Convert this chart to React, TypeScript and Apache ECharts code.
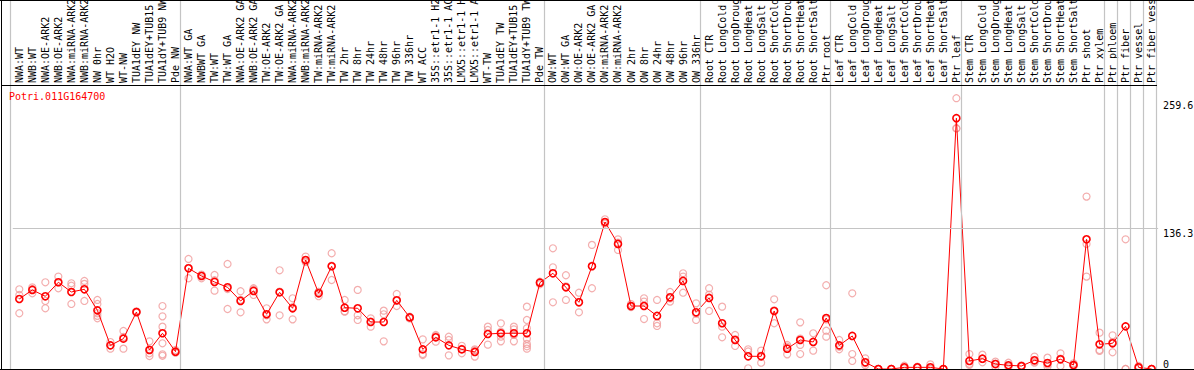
import React, { useEffect, useRef } from "react";
import * as echarts from "echarts";

const geneName = "Potri.011G164700";

const categories = [
  "NWA:WT", "NWB:WT", "NWA:OE-ARK2", "NWB:OE-ARK2", "NWA:miRNA-ARK2", "NWB:miRNA-ARK2",
  "NW 0hr", "WT H2O", "WT-NW", "TUA1dEY NW", "TUA1dEY+TUB15 NW", "TUA1dY+TUB9 NW", "Pde NW",
  "NWA:WT GA", "NWBWT GA", "TW:WT", "TW:WT GA", "NWA:OE-ARK2 GA", "NWB:OE-ARK2 GA",
  "TW:OE-ARK2", "TW:OE-ARK2 GA", "NWA:miRNA-ARK2 GA", "NWB:miRNA-ARK2 GA", "TW:miRNA-ARK2",
  "TW:miRNA-ARK2 GA", "TW 2hr", "TW 8hr", "TW 24hr", "TW 48hr", "TW 96hr", "TW 336hr",
  "WT ACC", "35S::etr1-1 H2O", "35S::etr1-1 ACC", "LMX5::etr1-1 H2O", "LMX5::etr1-1 ACC",
  "WT-TW", "TUA1dEY TW", "TUA1dEY+TUB15 TW", "TUA1dY+TUB9 TW", "Pde TW",
  "OW:WT", "OW:WT GA", "OW:OE-ARK2", "OW:OE-ARK2 GA", "OW:miRNA-ARK2", "OW:miRNA-ARK2 GA",
  "OW 2hr", "OW 8hr", "OW 24hr", "OW 48hr", "OW 96hr", "OW 336hr",
  "Root CTR", "Root LongCold", "Root LongDrought", "Root LongHeat", "Root LongSalt",
  "Root ShortCold", "Root ShortDrought", "Root ShortHeat", "Root ShortSalt", "Ptr root",
  "Leaf CTR", "Leaf LongCold", "Leaf LongDrought", "Leaf LongHeat", "Leaf LongSalt",
  "Leaf ShortCold", "Leaf ShortDrought", "Leaf ShortHeat", "Leaf ShortSalt", "Ptr leaf",
  "Stem CTR", "Stem LongCold", "Stem LongDrought", "Stem LongHeat", "Stem LongSalt",
  "Stem ShortCold", "Stem ShortDrought", "Stem ShortHeat", "Stem ShortSalt", "Ptr shoot",
  "Ptr xylem", "Ptr phloem", "Ptr fiber", "Ptr vessel", "Ptr fiber vessel",
];

const groupSizes = [13, 28, 12, 10, 10, 11, 1, 1, 1, 1];

const means = [
  67.8, 76.6, 70.4, 84, 74.6, 77.2, 56.8, 22.9, 29.4, 55.2, 18.4, 34.6, 16.8,
  97.5, 90.1, 84.3, 79.1, 65.9, 75.6, 53, 74.3, 58.8, 105.6, 73.3, 99.5, 59.4, 58.8, 45.5, 45.5,
  66.5, 50, 19, 30.7, 22.9, 19, 16.5, 33.9, 34.6, 34.6, 34.6, 83.6,
  92.7, 79.1, 64.6, 99.5, 142.4, 121.1, 61, 61, 51.4, 69.4, 85.3, 54.9,
  68.8, 44.3, 28.1, 12.3, 12.3, 56.2, 19.7, 28.1, 26.2, 49.4,
  22.9, 32, 6.5, 0, 0, 1.6, 1.6, 1.6, 0, 242.9,
  7.8, 10, 4.8, 3.6, 2.9, 8.4, 5.8, 9.4, 3.9, 125.6, 23.9,
  24.9, 41.3, 1.6, 0,
];

const replicates = [
  [77.2, 71.7, 54], [79.1, 73.3, 77.5], [84, 65.9, 58.8], [89.5, 78.2, 84],
  [83, 80.7, 63], [85.3, 82.4, 65.9], [66.9, 63, 54, 49.1, 51.5], [26.1, 19.7, 23],
  [36.8, 19.7, 31], [55.8, 54.6, 55.2], [26.8, 15.2, 12.6, 18.9],
  [61, 51, 41, 24.9, 14.2, 12.8], [18.4, 15.8, 16.2],
  [106.6, 87.9, 98], [91.5, 87.9, 91], [91.1, 75.9, 86], [101.7, 58.1, 77.5],
  [75.3, 54.9, 67], [78.2, 71.7, 77], [58.8, 48.1, 52], [95.6, 52, 75],
  [68.5, 48.1, 59.8], [108.9, 104, 104], [74.8, 70.5, 74.6], [112.1, 86.2, 100],
  [66.9, 55.5, 56], [76.6, 47.5, 52], [49.1, 41, 46], [56.5, 53, 26.8],
  [72.7, 61, 66], [50.6, 49, 50.3], [28.7, 14.5, 13.5], [33, 26.5, 32],
  [31.3, 28.1, 13.2], [22.5, 15.2, 19.5], [19, 12, 18], [41, 37.8, 23.6],
  [44.2, 31.3, 26.8, 36], [41, 38.4, 26.8, 33], [60.4, 47.5, 39.5, 29.2, 24.3, 19.7, 22],
  [84.5, 82.1, 84],
  [116.9, 98.5, 64.6], [90.8, 66.9, 80], [73.9, 54.9, 65], [120.2, 78.2, 100],
  [145, 141, 141.2], [125.6, 115.3, 122.4], [62.9, 60.4, 60], [68.5, 65.3, 48.4],
  [66.9, 44.3, 41.7], [74.6, 65.3, 68.4], [92.7, 89.5, 73.9], [63.6, 47.5, 53.6],
  [78.2, 56.2, 72], [60.4, 41, 30.7], [33, 22.3, 29], [19.1, 0.7, 17], [17.8, 6.1, 13],
  [67.5, 44.3, 56.8], [21.6, 14.2, 23.3], [45.2, 23.3, 14.5, 29.4], [34.6, 17.8, 26.2],
  [81.1, 37.1, 31.3, 48],
  [28.1, 19.1, 21.5], [73.3, 14.5, 7.8], [10.3, 5.5, 3.7], [0, 0, 0], [0, 0, 0],
  [3.2, 1, 0.6], [2.2, 1.6, 1], [4.5, 0.3, 0], [0, 0, 0], [262.3, 233.2, 233],
  [14.5, 3.9, 5], [13.9, 9.7, 6.5], [7.1, 2.2, 5.1], [6.1, 2.5, 2.2], [3.5, 2.6, 2.6],
  [12, 6.1, 7.1], [11, 2.2, 4.2], [15.2, 2.9, 10], [5.5, 3.2, 3], [167, 121.1, 89.5],
  [35.2, 18.4, 17.5], [32.6, 16.2, 26], [125.6, 0, 0], [2.9, 1, 0.9], [0, 0, 0],
];

const yTickLabels = [136.3, 259.6];
const yZeroLabel = [0];
const yGridValue = 136.3;
const yMax = 274.1;

const MONO = "DejaVu Sans Mono";

export default function App() {
  const ref = useRef<HTMLDivElement>(null);

  useEffect(() => {
    if (!ref.current) return;
    const chart = echarts.init(ref.current, null, { renderer: "svg" });

    const boundaries: number[] = [0];
    groupSizes.forEach((s) => boundaries.push(boundaries[boundaries.length - 1] + s));

    const repData: number[][] = [];
    replicates.forEach((vals, i) => vals.forEach((v) => repData.push([i, v])));

    const band = 13.015;
    const n = categories.length;

    chart.setOption({
      animation: false,
      backgroundColor: "#ffffff",
      title: {
        text: geneName,
        left: 9,
        top: 91,
        padding: 0,
        textStyle: { color: "#ff0000", fontSize: 10, fontFamily: MONO, fontWeight: "normal" },
      },
      grid: [
        { left: 12.8, top: 86, width: band * n, height: 283, containLabel: false, outerBoundsMode: "none" },
        { left: 10.7, top: 0, width: band * n, height: 369, containLabel: false, outerBoundsMode: "none" },
      ],
      xAxis: [
        {
          type: "category",
          gridIndex: 0,
          position: "top",
          data: categories,
          boundaryGap: true,
          axisLine: { show: false },
          axisTick: { show: false },
          splitLine: { show: false },
          axisLabel: {
            interval: 0,
            rotate: 90,
            margin: 3,
            color: "#000",
            fontSize: 10,
            fontFamily: MONO,
          },
        },
        { type: "value", gridIndex: 1, min: 0, max: n, show: false },
      ],
      yAxis: [
        {
          type: "value",
          gridIndex: 0,
          position: "right",
          min: 0,
          max: yMax,
          axisLine: { show: false },
          axisTick: { show: false },
          splitLine: { show: false },
          axisLabel: {
            customValues: yTickLabels,
            margin: 5,
            verticalAlign: "top",
            color: "#000",
            fontSize: 10,
            fontFamily: MONO,
          },
        },
        {
          type: "value",
          gridIndex: 0,
          position: "right",
          min: 0,
          max: yMax,
          axisLine: { show: false },
          axisTick: { show: false },
          splitLine: { show: false },
          axisLabel: {
            customValues: yZeroLabel,
            margin: 5,
            verticalAlign: "bottom",
            color: "#000",
            fontSize: 10,
            fontFamily: MONO,
          },
        },
        { type: "value", gridIndex: 1, min: 0, max: 1, show: false },
      ],
      series: [
        {
          type: "line",
          xAxisIndex: 1,
          yAxisIndex: 2,
          data: [[0, 0]],
          symbol: "none",
          lineStyle: { width: 0, opacity: 0 },
          silent: true,
          z: 1,
          markLine: {
            silent: true,
            symbol: "none",
            label: { show: false },
            lineStyle: { color: "#c4c4c4", type: "solid", width: 1.2 },
            data: boundaries.map((b) => ({ xAxis: b })),
          },
        },
        {
          type: "scatter",
          xAxisIndex: 0,
          yAxisIndex: 0,
          data: repData,
          symbol: "circle",
          symbolSize: 7,
          itemStyle: { color: "rgba(0,0,0,0)", borderColor: "#f09a9a", borderWidth: 1.2 },
          z: 2,
          silent: true,
        },
        {
          type: "line",
          xAxisIndex: 0,
          yAxisIndex: 0,
          data: means,
          symbol: "circle",
          symbolSize: 7,
          showAllSymbol: true,
          lineStyle: { color: "#ff0000", width: 1 },
          itemStyle: { color: "rgba(0,0,0,0)", borderColor: "#ff0000", borderWidth: 1.6 },
          z: 3,
          silent: true,
          markLine: {
            silent: true,
            symbol: "none",
            label: { show: false },
            lineStyle: { color: "#c4c4c4", type: "solid", width: 1.2 },
            data: [{ yAxis: yGridValue }],
          },
        },
      ],
      graphic: [
        { type: "line", shape: { x1: 0, y1: 0.5, x2: 1194, y2: 0.5 }, style: { stroke: "#000", lineWidth: 1 }, z: 10 },
        { type: "line", shape: { x1: 1, y1: 85.5, x2: 1157, y2: 85.5 }, style: { stroke: "#000", lineWidth: 1 }, z: 10 },
        { type: "line", shape: { x1: 0, y1: 369.5, x2: 1194, y2: 369.5 }, style: { stroke: "#000", lineWidth: 1 }, z: 10 },
        { type: "line", shape: { x1: 1.5, y1: 0, x2: 1.5, y2: 370 }, style: { stroke: "#000", lineWidth: 1 }, z: 10 },
      ],
    });

    return () => chart.dispose();
  }, []);

  return (
    <div
      ref={ref}
      style={{ position: "absolute", left: 0, top: 0, width: 1194, height: 370 }}
    />
  );
}
